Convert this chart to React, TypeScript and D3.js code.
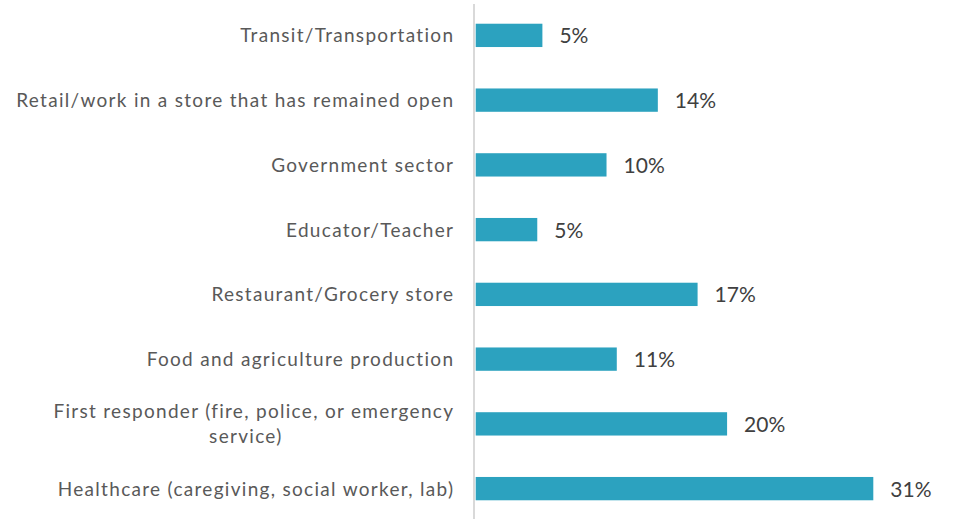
import React, { useEffect, useRef } from "react";
import * as d3 from "d3";

const categories: string[] = [
  "Transit/Transportation",
  "Retail/work in a store that has remained open",
  "Government sector",
  "Educator/Teacher",
  "Restaurant/Grocery store",
  "Food and agriculture production",
  "First responder (fire, police, or emergency service)",
  "Healthcare (caregiving, social worker, lab)",
];

const labelLines: string[][] = [
  ["Transit/Transportation"],
  ["Retail/work in a store that has remained open"],
  ["Government sector"],
  ["Educator/Teacher"],
  ["Restaurant/Grocery store"],
  ["Food and agriculture production"],
  ["First responder (fire, police, or emergency", "service)"],
  ["Healthcare (caregiving, social worker, lab)"],
];

const values: number[] = [0.052, 0.142, 0.102, 0.048, 0.173, 0.11, 0.196, 0.31];

const valueLabels: string[] = ["5%", "14%", "10%", "5%", "17%", "11%", "20%", "31%"];

const W = 953;
const H = 519;
const FONT = "Lato, 'Open Sans', sans-serif";

export default function App() {
  const ref = useRef<SVGSVGElement | null>(null);

  useEffect(() => {
    const svg = d3.select(ref.current);
    svg.selectAll("*").remove();

    const x = d3.scaleLinear().domain([0, 0.35]).range([475.7, 475.7 + (397.6 / 0.31) * 0.35]);
    const y = d3
      .scaleBand<string>()
      .domain(categories)
      .range([3, 521])
      .paddingInner(0.64)
      .paddingOuter(0.32);

    const g = svg.append("g");

    g.selectAll("rect.bar")
      .data(values)
      .enter()
      .append("rect")
      .attr("class", "bar")
      .attr("x", x(0))
      .attr("y", (_d, i) => y(categories[i])!)
      .attr("width", (d) => x(d) - x(0))
      .attr("height", y.bandwidth())
      .attr("fill", "#2ca2bf");

    // axis line
    g.append("line")
      .attr("x1", 474)
      .attr("x2", 474)
      .attr("y1", 4)
      .attr("y2", H)
      .attr("stroke", "#d9d9d9")
      .attr("stroke-width", 2);

    // category labels
    const lineH = 25;
    const LS = 1.3;
    const RX = 453 + LS;
    labelLines.forEach((lines, i) => {
      const cy = y(categories[i])! + y.bandwidth() / 2;
      const t = g
        .append("text")
        .attr("font-family", FONT)
        .attr("font-size", 19)
        .attr("letter-spacing", LS)
        .attr("fill", "#595959");
      if (lines.length === 1) {
        t.attr("x", RX).attr("y", cy + 7).attr("text-anchor", "end").text(lines[0]);
      } else {
        const first = t
          .attr("x", RX)
          .attr("y", cy - lineH / 2 + 7)
          .attr("text-anchor", "end")
          .text(lines[0]);
        const w = (first.node() as SVGTextElement).getComputedTextLength();
        const center = RX - w / 2;
        g.append("text")
          .attr("font-family", FONT)
          .attr("font-size", 19)
          .attr("letter-spacing", LS)
          .attr("fill", "#595959")
          .attr("x", center - 8)
          .attr("y", cy + lineH / 2 + 7)
          .attr("text-anchor", "middle")
          .text(lines[1]);
      }
    });

    // value labels
    g.selectAll("text.val")
      .data(values)
      .enter()
      .append("text")
      .attr("class", "val")
      .attr("font-family", FONT)
      .attr("font-size", 21)
      .attr("fill", "#404040")
      .attr("x", (d) => x(d) + 17)
      .attr("y", (_d, i) => y(categories[i])! + y.bandwidth() / 2 + 8)
      .text((_d, i) => valueLabels[i]);
  }, []);

  return (
    <svg
      ref={ref}
      width={W}
      height={H}
      style={{ position: "absolute", left: 0, top: 0, background: "#ffffff" }}
    />
  );
}
